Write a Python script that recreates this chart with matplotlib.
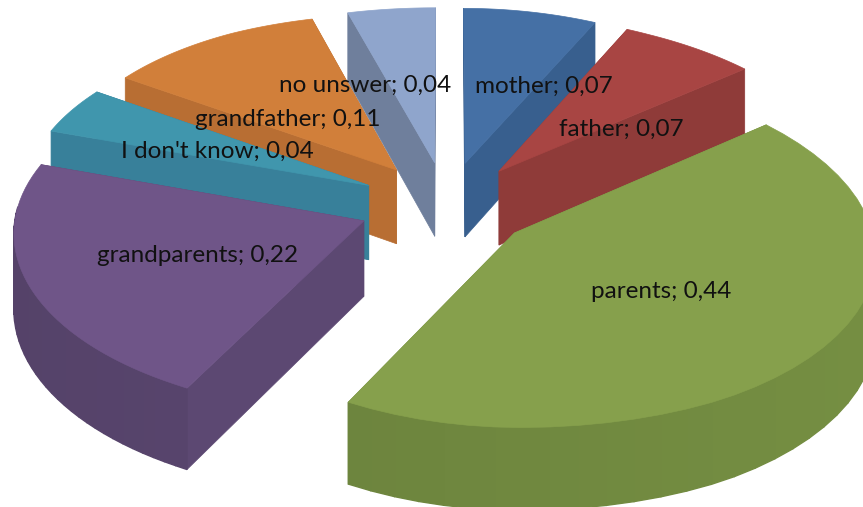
import numpy as np
import matplotlib
matplotlib.use("Agg")
import matplotlib.pyplot as plt
from matplotlib.patches import Polygon

categories = ["mother", "father", "parents", "grandparents", "I don't know", "grandfather", "no unswer"]
values = [0.071, 0.069, 0.439, 0.224, 0.044, 0.111, 0.042]
top_colors = ["#4570A5", "#A84543", "#86A04C", "#6F5588", "#4096AD", "#D17F3A", "#8FA5CC"]
side_colors = ["#385F8E", "#8F3B39", "#738C41", "#5C4872", "#38809A", "#B86E33", "#6F7F9C"]
label_xy = [(544, 86), (621, 129), (661, 291), (198, 256), (217, 151), (288, 120), (365, 85)]

CX, CY, A, B, K, H, E, WIDEN, SHEAR = 446, 205, 350, 174, 0.081, 75, 0.25, 0.01, 0.03

def proj(X, Y, z=0.0):
    s = 1 / (1 - K * Y)
    return CX + A * X * s, CY + B * Y * s + z * H * s

fig = plt.figure(figsize=(8.63, 5.07), dpi=100)
ax = fig.add_axes([0, 0, 1, 1])
ax.set_xlim(0, 863)
ax.set_ylim(507, 0)
ax.axis("off")

cum = np.cumsum([0] + values) / sum(values) * 2 * np.pi
order = sorted(range(len(values)), key=lambda i: -np.cos((cum[i] + cum[i + 1]) / 2))
for i in order:
    a0, a1 = cum[i], cum[i + 1]
    mid = (a0 + a1) / 2
    ox, oy = E * np.sin(mid), -E * np.cos(mid)
    th = np.linspace(a0, a1, 40)
    rx = (ox + np.sin(th) * (1 + WIDEN * np.sin(th))
          - SHEAR * np.cos(th) * np.minimum(1, 2 * np.abs(np.sin(th))))
    ry = oy - np.cos(th)
    for k in (0, -1):
        q = [proj(ox, oy, 0), proj(rx[k], ry[k], 0), proj(rx[k], ry[k], 1), proj(ox, oy, 1)]
        ax.add_patch(Polygon(q, closed=True, fc=side_colors[i], ec=side_colors[i], lw=0.5))
    base = np.array(matplotlib.colors.to_rgb(side_colors[i]))
    for j in range(len(th) - 1):
        if -np.cos(th[j]) < -0.05 and -np.cos(th[j + 1]) < -0.05:
            continue
        q = [proj(rx[j], ry[j], 0), proj(rx[j + 1], ry[j + 1], 0),
             proj(rx[j + 1], ry[j + 1], 1), proj(rx[j], ry[j], 1)]
        f = 0.92 + 0.1 * (np.sin(th[j]) + 1) / 2
        c = np.clip(base * f, 0, 1)
        ax.add_patch(Polygon(q, closed=True, fc=c, ec=c, lw=1.0))
    pts = [proj(ox, oy)] + [proj(x, y) for x, y in zip(rx, ry)]
    ax.add_patch(Polygon(pts, closed=True, fc=top_colors[i], ec=top_colors[i], lw=0.5))

for name, v, (x, y) in zip(categories, values, label_xy):
    ax.text(x, y, f"{name}; {v:.2f}".replace(".", ","), ha="center", va="center",
            fontsize=17.5, family="Lato", color="#111111", zorder=5)

fig.savefig("out.png", dpi=100)
